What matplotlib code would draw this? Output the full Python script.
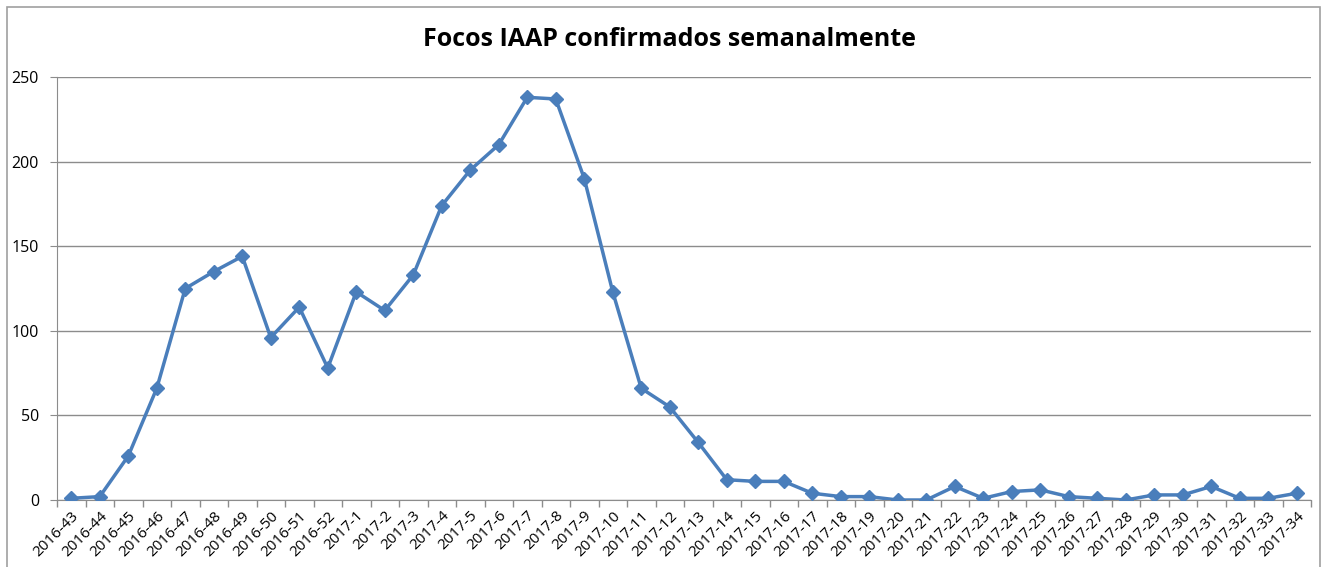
import numpy as np
import matplotlib.pyplot as plt
from matplotlib.patches import Rectangle

# semanas epidemiologicas
semanas = ["2016-%d" % s for s in range(43, 53)] + ["2017-%d" % s for s in range(1, 35)]

# focos confirmados por semana
focos = [1, 2, 26, 66, 125, 135, 144, 96, 114, 78,
         123, 112, 133, 174, 195, 210, 238, 237, 190, 123,
         66, 55, 34, 12, 11, 11, 4, 2, 2, 0,
         0, 8, 1, 5, 6, 2, 1, 0, 3, 3,
         8, 1, 1, 4]

y_ticks = [0, 50, 100, 150, 200, 250]

line_color = "#4A7EBB"
grid_color = "#8C8C8C"

fig = plt.figure(figsize=(13.27, 5.67), dpi=100)
fig.patches.append(Rectangle((7 / 1327, -0.01), 1 - 14 / 1327, 1 - 7 / 567 + 0.01,
                             transform=fig.transFigure, fill=False,
                             edgecolor="#A0A0A0", linewidth=1.2))

ax = fig.add_axes([57 / 1327, 1 - 500 / 567, (1311 - 57) / 1327, (500 - 77) / 567])

x = np.arange(len(semanas))
ax.plot(x, focos, color=line_color, linewidth=2.5, marker="D", markersize=7,
        markerfacecolor=line_color, markeredgecolor=line_color, zorder=3)

ax.set_xlim(-0.5, len(semanas) - 0.5)
ax.set_ylim(0, 250)
ax.set_yticks(y_ticks)
ax.yaxis.grid(True, color=grid_color, linewidth=1)
ax.set_axisbelow(True)

# category labels centred, tick marks between categories
ax.set_xticks(x)
ax.set_xticklabels(semanas, rotation=45, ha="right", rotation_mode="anchor",
                   fontsize=11, fontfamily="Open Sans")
ax.tick_params(axis="x", which="major", length=0, pad=6)
ax.set_xticks(np.arange(-0.5, len(semanas), 1), minor=True)
ax.tick_params(axis="x", which="minor", length=5, color=grid_color, width=1)
ax.tick_params(axis="y", length=5, color=grid_color, labelsize=11.5, pad=8)
for lab in ax.get_yticklabels():
    lab.set_fontfamily("Open Sans")

for side in ["top", "right"]:
    ax.spines[side].set_visible(False)
ax.spines["left"].set_color(grid_color)
ax.spines["bottom"].set_color(grid_color)

fig.text(669 / 1327, 1 - 40 / 567, "Focos IAAP confirmados semanalmente",
         ha="center", va="center", fontsize=18, fontweight="bold",
         fontfamily="Open Sans")

fig.savefig("out.png", dpi=100)
